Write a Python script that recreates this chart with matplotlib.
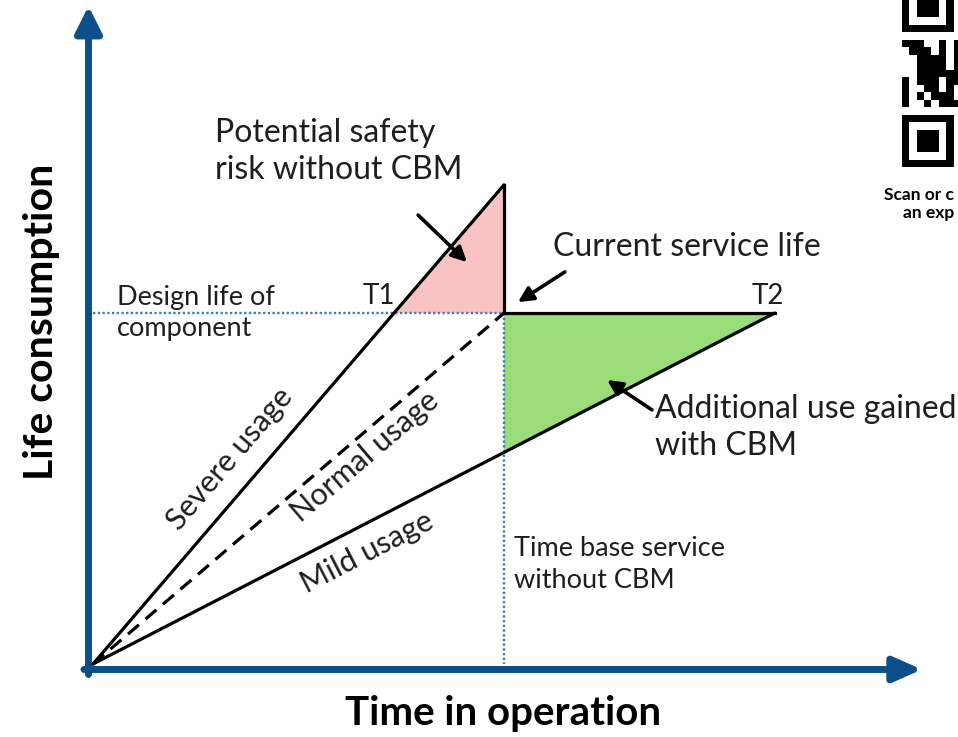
import numpy as np
import matplotlib
matplotlib.use('Agg')
from matplotlib import pyplot as plt

plt.rcParams['font.family'] = ['Lato', 'DejaVu Sans']

# schematic values: time base service = 1, design life = 1
time_base = 1.0
design_life = 1.0
severe_peak = 1.365          # life consumed by severe usage at time base
t2 = 1.659                   # time when mild usage reaches design life
t1 = design_life / severe_peak * time_base

usage_names = ['Severe usage', 'Normal usage', 'Mild usage']
usage_end_t = [time_base, time_base, t2]
usage_end_life = [severe_peak, design_life, design_life]
usage_styles = ['-', (0, (4.5, 2.7)), '-']

qr_rows = [
    '11111110', '10000010', '10111010', '10111010', '10111010', '10000010', '11111110',
    '00000000',
    '11100101', '01110101', '00111101', '00111101', '00111111', '10111011',
    '10011010', '10101110', '10010111',
    '00000000',
    '11111110', '10000010', '10111010', '10111010', '10111010', '10000010', '11111110',
]

W, H = 958, 737
px = 1 / 100
fig = plt.figure(figsize=(W * px, H * px), dpi=100)
ax = fig.add_axes([0, 0, 1, 1])
ax.set_xlim(-93 / 411, (W - 93) / 411)
ax.set_ylim((664 - H) / 351, 664 / 351)
ax.axis('off')

BLUE = '#0c4f8b'
DOT = '#3b7dbd'
LW = 2.3

# axes arrows
ax.annotate('', xy=(-4.5 / 411, 658 / 351), xytext=(-4.5 / 411, -10.5 / 351),
            arrowprops=dict(arrowstyle='-|>,head_length=1.6,head_width=0.8', lw=5,
                            color=BLUE, shrinkA=0, shrinkB=0, mutation_scale=10))
ax.annotate('', xy=(829 / 411, -5.5 / 351), xytext=(-9 / 411, -5.5 / 351),
            arrowprops=dict(arrowstyle='-|>,head_length=1.7,head_width=0.75', lw=5,
                            color=BLUE, shrinkA=0, shrinkB=0, mutation_scale=10))

# filled regions
ax.fill([t1, time_base, time_base], [design_life, severe_peak, design_life],
        color='#f9c3c3', lw=0, zorder=1)
ax.fill([time_base, t2, time_base], [design_life, design_life, design_life * time_base / t2],
        color='#9adc78', lw=0, zorder=1)

# reference dotted lines
ax.plot([0, time_base], [design_life, design_life], color=DOT, lw=1.7,
        linestyle=(0, (1, 1.0)), zorder=2)
ax.plot([time_base, time_base], [design_life, 0], color=DOT, lw=1.7,
        linestyle=(0, (1, 1.0)), zorder=2)

# usage lines
for name, te, le, ls in zip(usage_names, usage_end_t, usage_end_life, usage_styles):
    ax.plot([0, te], [0, le], color='black', lw=LW, linestyle=ls, zorder=3,
            solid_capstyle='round')
ax.plot([time_base, time_base], [design_life, severe_peak], color='black', lw=LW, zorder=3)
ax.plot([time_base, t2], [design_life, design_life], color='black', lw=LW, zorder=3)

# rotated usage labels
label_pos = [(0.333, 0.584), (0.662, 0.590), (0.667, 0.318)]
for name, te, le, (lx, ly) in zip(usage_names, usage_end_t, usage_end_life, label_pos):
    p0 = ax.transData.transform((0, 0))
    p1 = ax.transData.transform((te, le))
    ang = np.degrees(np.arctan2(p1[1] - p0[1], p1[0] - p0[0]))
    ax.text(lx, ly, name, rotation=ang, rotation_mode='anchor', ha='center', va='center',
            fontsize=22, color='#1e1e1e')

# annotation arrows
arrow_kw = dict(arrowstyle='-|>,head_length=0.9,head_width=0.45', lw=2.6, color='black',
                shrinkA=0, shrinkB=0, mutation_scale=10)
ax.annotate('', xy=(0.910, 1.145), xytext=(0.791, 1.279), arrowprops=arrow_kw, zorder=4)
ax.annotate('', xy=(1.034, 1.031), xytext=(1.148, 1.117), arrowprops=arrow_kw, zorder=4)
ax.annotate('', xy=(1.251, 0.809), xytext=(1.360, 0.724), arrowprops=arrow_kw, zorder=4)

# text labels
tc = '#1e1e1e'
ax.text(0.297, 1.459, 'Potential safety\nrisk without CBM', fontsize=23, color=tc,
        va='center', ha='left', linespacing=1.3)
ax.text(1.119, 1.188, 'Current service life', fontsize=23, color=tc, va='center')
ax.text(0.058, 1.000, 'Design life of\ncomponent', fontsize=19.5, color=tc, va='center',
        linespacing=1.32)
ax.text(0.655, 1.048, 'T1', fontsize=20, color=tc, va='center')
ax.text(1.603, 1.048, 'T2', fontsize=20, color=tc, va='center')
ax.text(1.367, 0.674, 'Additional use gained\nwith CBM', fontsize=23, color=tc,
        va='center', linespacing=1.3)
ax.text(1.024, 0.284, 'Time base service\nwithout CBM', fontsize=19.5, color=tc,
        va='center', linespacing=1.32)

fig.text(42 / W, 1 - 322 / H, 'Life consumption', rotation=90, ha='center', va='center',
         fontsize=29.5, fontweight='bold')
fig.text(503 / W, 1 - 714 / H, 'Time in operation', ha='center', va='center',
         fontsize=29, fontweight='bold')

# QR code (clipped at figure edge, as in the source)
qr = np.array([[int(c) for c in r] for r in qr_rows])
qax = fig.add_axes([902 / W, (H - 167) / H, 8 * 7.3 / W, 25 * 7.45 / H])
qax.imshow(1 - qr, cmap='gray', vmin=0, vmax=1, aspect='auto', interpolation='nearest')
qax.axis('off')
fig.text(884 / W, 1 - 195 / H, 'Scan or c', fontsize=12.5, fontweight='bold',
         va='center', ha='left')
fig.text(903 / W, 1 - 213 / H, 'an exp', fontsize=12.5, fontweight='bold',
         va='center', ha='left')

fig.savefig('out.png', dpi=100)
